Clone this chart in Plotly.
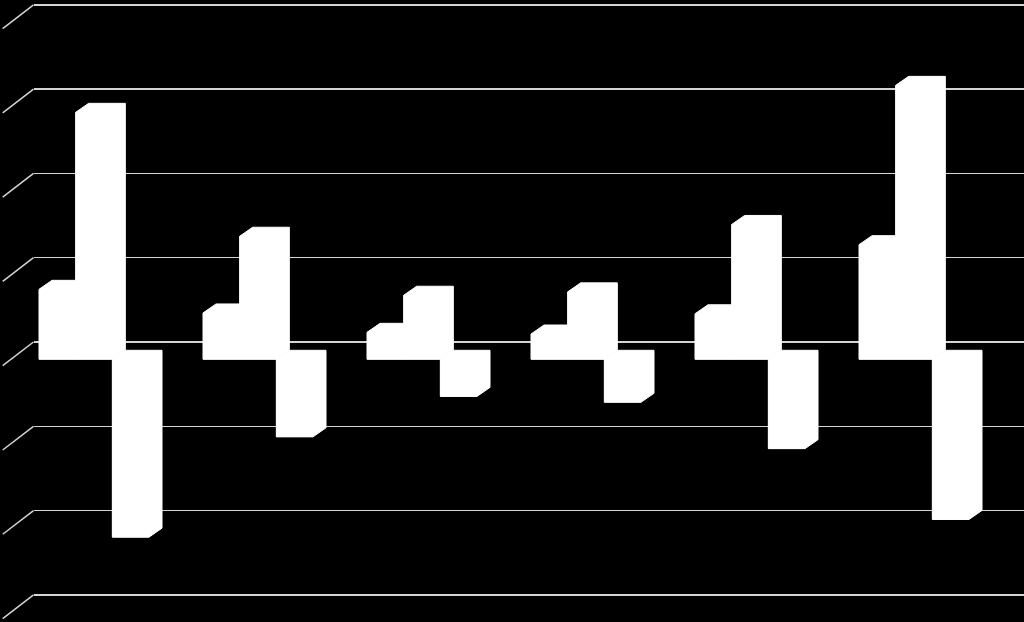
import plotly.graph_objects as go

# ---- data (values in gridline units) ----
categories = [0, 1, 2, 3, 4, 5]
series_a = [0.83, 0.55, 0.32, 0.30, 0.54, 1.36]
series_b = [2.93, 1.46, 0.76, 0.80, 1.60, 3.25]
series_c = [-2.11, -0.92, -0.44, -0.51, -1.06, -1.90]
grid_values = [-3, -2, -1, 0, 1, 2, 3, 4]

# ---- geometry of the fake 3D view ----
W, H = 1024, 622
zero_px, unit_px = 359.3, 84.29
center0_px, cat_px = 94.0, 164.0
back_zero_px = 342.0
back_left_px = 33.5
cluster_frac = 110.0 / 164.0
bar_w = cluster_frac / 3
bar_dx = 13.0 / cat_px
bar_dy = 9.0 / unit_px
wall_back_dy = (zero_px - back_zero_px) / unit_px
wall_back_x = (back_left_px - center0_px) / cat_px
wall_front_x = (2.7 - center0_px) / cat_px
wall_front_dy = (zero_px - back_zero_px - 23.7) / unit_px
grid_color = "#d4d4d4"

fig = go.Figure()

# invisible trace to create the back-wall subplot (gridlines)
fig.add_trace(go.Scatter(x=[0], y=[0], mode="markers", marker=dict(opacity=0),
                         xaxis="x", yaxis="y", showlegend=False, hoverinfo="skip"))

# side-wall diagonals
for v in grid_values:
    fig.add_trace(go.Scatter(
        x=[wall_front_x, wall_back_x],
        y=[v + wall_front_dy, v + wall_back_dy],
        mode="lines", line=dict(color=grid_color, width=1.5),
        xaxis="x2", yaxis="y2", showlegend=False, hoverinfo="skip"))

series = [series_a, series_b, series_c]
for j, vals in enumerate(series):
    fig.add_trace(go.Bar(x=categories, y=vals, marker=dict(color="white", line=dict(width=0)),
                         xaxis="x2", yaxis="y2", showlegend=False))

# full 3D outline (front + top + side) for each bar
for j, vals in enumerate(series):
    for i, v in zip(categories, vals):
        x0 = i + (j - 1) * bar_w - bar_w / 2
        x1 = x0 + bar_w
        if v >= 0:
            xs = [x0, x0, x0 + bar_dx, x1 + bar_dx, x1 + bar_dx, x1, x0]
            ys = [0, v, v + bar_dy, v + bar_dy, bar_dy, 0, 0]
        else:
            xs = [x0, x0 + bar_dx, x1 + bar_dx, x1 + bar_dx, x1, x0, x0]
            ys = [0, bar_dy, bar_dy, v + bar_dy, v, v, 0]
        fig.add_trace(go.Scatter(x=xs, y=ys, mode="lines", fill="toself",
                                 fillcolor="white", line=dict(width=1, color="white"),
                                 xaxis="x2", yaxis="y2", showlegend=False, hoverinfo="skip"))

hidden = dict(showticklabels=False, ticks="", showline=False, zeroline=False)
fig.update_layout(
    width=W, height=H,
    margin=dict(l=0, r=0, t=0, b=0),
    paper_bgcolor="black", plot_bgcolor="rgba(0,0,0,0)",
    barmode="group", bargap=1 - cluster_frac, bargroupgap=0,
    hovermode=False,
    xaxis=dict(domain=[back_left_px / W, 1], range=[0, 1], showgrid=False, **hidden),
    yaxis=dict(domain=[0, 1],
               range=[(back_zero_px - H) / unit_px, back_zero_px / unit_px],
               showgrid=True, gridcolor=grid_color, gridwidth=1.5,
               tickmode="array", tickvals=grid_values, **hidden),
    xaxis2=dict(domain=[0, 1], anchor="y2",
                range=[(0 - center0_px) / cat_px, (W - center0_px) / cat_px],
                showgrid=False, **hidden),
    yaxis2=dict(domain=[0, 1], anchor="x2",
                range=[(zero_px - H) / unit_px, zero_px / unit_px],
                showgrid=False, **hidden),
)

fig.write_html("out.html", config={"displayModeBar": False, "staticPlot": True},
               post_script="document.body.style.margin='0';document.body.style.background='black';")
